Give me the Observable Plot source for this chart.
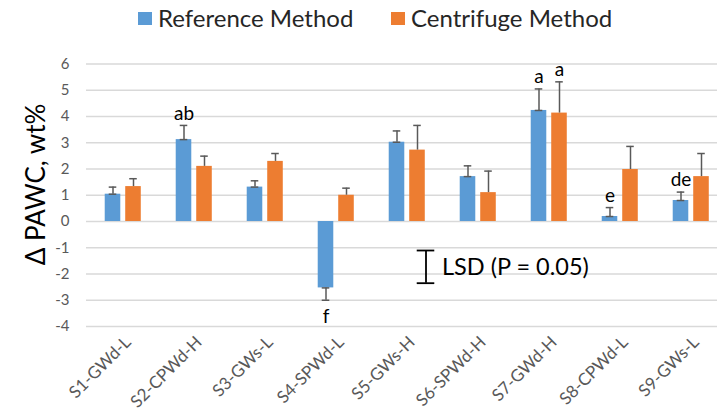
<!DOCTYPE html>
<html>
<head>
<meta charset="utf-8">
<script src="https://cdn.jsdelivr.net/npm/d3@7"></script>
<script src="https://cdn.jsdelivr.net/npm/@observablehq/plot@0.6"></script>
<style>
  html, body { margin: 0; padding: 0; background: #fff; overflow: hidden; }
  #wrap { position: relative; width: 717px; height: 413px; font-family: "Lato", "Liberation Sans", sans-serif; }
  #legend { position: absolute; left: 0; top: 0; width: 717px; height: 40px; }
  .sw { position: absolute; top: 12px; width: 14px; height: 13px; }
  .lt { position: absolute; top: 2px; font-size: 24px; line-height: 32px; color: #262626; white-space: nowrap; }
  #chart { position: absolute; left: 0; top: 40px; }
</style>
</head>
<body>
<div id="wrap">
  <div id="legend"></div>
  <div id="chart"></div>
</div>
<script>
const categories = ["S1-GWd-L", "S2-CPWd-H", "S3-GWs-L", "S4-SPWd-L", "S5-GWs-H", "S6-SPWd-H", "S7-GWd-H", "S8-CPWd-L", "S9-GWs-L"];
const seriesNames = ["Reference Method", "Centrifuge Method"];
const seriesColors = ["#5B9BD5", "#ED7D31"];
const refValues = [1.04, 3.12, 1.31, -2.53, 3.02, 1.71, 4.23, 0.19, 0.80];
const refErrors = [0.27, 0.54, 0.24, 0.47, 0.43, 0.41, 0.82, 0.34, 0.32];
const cenValues = [1.33, 2.10, 2.29, 1.00, 2.72, 1.10, 4.13, 1.98, 1.71];
const cenErrors = [0.30, 0.39, 0.30, 0.27, 0.94, 0.82, 1.19, 0.88, 0.88];
const refLetters = ["", "ab", "", "f", "", "", "a", "e", "de"];
const cenLetters = ["", "", "", "", "", "", "a", "", ""];
const yTicks = [-4, -3, -2, -1, 0, 1, 2, 3, 4, 5, 6];
const lsdCategory = "S5-GWs-H";
const lsdTop = -1.105;
const lsdBottom = -2.35;
const lsdLabelY = -1.74;
const lsdLabel = "LSD (P = 0.05)";
const yLabel = "Δ PAWC, wt%";

// legend
const legend = document.getElementById("legend");
const legendPos = [[138, 158], [391, 411]];
seriesNames.forEach((name, i) => {
  const sw = document.createElement("div");
  sw.className = "sw";
  sw.style.left = legendPos[i][0] + "px";
  sw.style.background = seriesColors[i];
  legend.appendChild(sw);
  const t = document.createElement("div");
  t.className = "lt";
  t.style.left = legendPos[i][1] + "px";
  t.textContent = name;
  legend.appendChild(t);
});

const ref = categories.map((c, i) => ({c, v: refValues[i], e: refValues[i] + Math.sign(refValues[i]) * refErrors[i], lab: refLetters[i]}));
const cen = categories.map((c, i) => ({c, v: cenValues[i], e: cenValues[i] + Math.sign(cenValues[i]) * cenErrors[i], lab: cenLetters[i]}));

const bw = 71.44, half = bw / 2;
const refOff = -10, cenOff = 10.5;
const capHalf = 4;
const font = "Lato, 'Liberation Sans', sans-serif";

const chart = Plot.plot({
  width: 717,
  height: 373,
  marginTop: 23.5,
  marginBottom: 87,
  marginLeft: 86,
  marginRight: 0,
  style: {fontFamily: font, background: "#fff"},
  x: {type: "band", domain: categories, range: [85.3, 85.3 + 9 * bw], padding: 0},
  y: {domain: [-4, 6], ticks: yTicks},
  marks: [
    Plot.gridY(yTicks, {stroke: "#d9d9d9", strokeOpacity: 1, strokeWidth: 1.4}),
    Plot.axisY({ticks: yTicks, tickSize: 0, tickPadding: 17, fontSize: 15, color: "#595959", label: null, tickFormat: d => String(d)}),
    Plot.axisX({tickSize: 0, tickPadding: 13, tickRotate: -45, fontSize: 17, dx: 5, color: "#595959", label: null}),
    // bars
    Plot.barY(ref, {x: "c", y: "v", fill: seriesColors[0], insetLeft: half - 18, insetRight: half + 2}),
    Plot.barY(cen, {x: "c", y: "v", fill: seriesColors[1], insetLeft: half + 2.5, insetRight: half - 18.5}),
    // error bars
    Plot.ruleX(ref, {x: "c", y1: "v", y2: "e", dx: refOff, stroke: "#595959", strokeWidth: 1.5}),
    Plot.tickY(ref, {x: "c", y: "e", stroke: "#595959", strokeWidth: 1.5, insetLeft: half + refOff - capHalf, insetRight: half - refOff - capHalf}),
    Plot.tickY(ref, {x: "c", y: "v", stroke: "#595959", strokeWidth: 1.5, insetLeft: half + refOff - capHalf, insetRight: half - refOff - capHalf}),
    Plot.ruleX(cen, {x: "c", y1: "v", y2: "e", dx: cenOff, stroke: "#595959", strokeWidth: 1.5}),
    Plot.tickY(cen, {x: "c", y: "e", stroke: "#595959", strokeWidth: 1.5, insetLeft: half + cenOff - capHalf, insetRight: half - cenOff - capHalf}),
    // letters
    Plot.text(ref.filter(d => d.lab && d.v >= 0), {x: "c", y: "e", text: "lab", dx: refOff, dy: -12, fontSize: 19, fill: "#000"}),
    Plot.text(ref.filter(d => d.lab && d.v < 0), {x: "c", y: "e", text: "lab", dx: refOff, dy: 17, fontSize: 19, fill: "#000"}),
    Plot.text(cen.filter(d => d.lab), {x: "c", y: "e", text: "lab", dx: cenOff, dy: -12, fontSize: 19, fill: "#000"}),
    // LSD
    Plot.ruleX([lsdCategory], {x: d => d, y1: lsdTop, y2: lsdBottom, dx: 19, stroke: "#000", strokeWidth: 1.8}),
    Plot.tickY([lsdTop, lsdBottom], {x: () => lsdCategory, y: d => d, stroke: "#000", strokeWidth: 1.8, insetLeft: half + 10, insetRight: half - 28}),
    Plot.text([lsdLabel], {x: () => lsdCategory, y: () => lsdLabelY, text: d => d, dx: 35, textAnchor: "start", fontSize: 23.5, fill: "#000"}),
    // y label
    Plot.text([yLabel], {frameAnchor: "left", text: d => d, rotate: -90, textAnchor: "middle", lineAnchor: "middle", dx: -49.5, dy: -10.75, fontSize: 26, fill: "#000"})
  ]
});
document.getElementById("chart").appendChild(chart);
</script>
</body>
</html>
